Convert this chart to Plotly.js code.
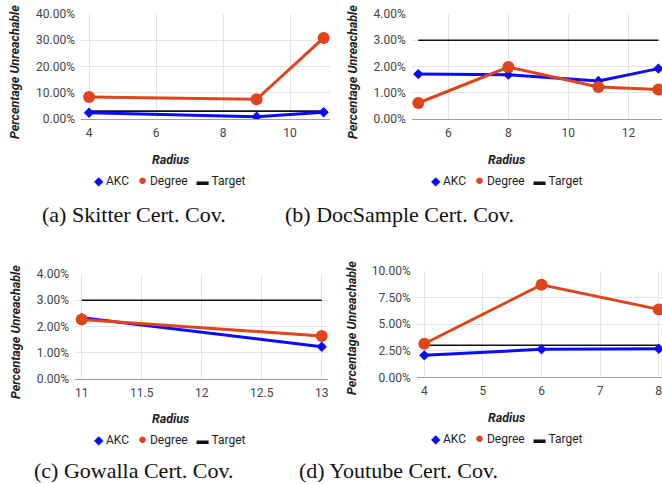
<!DOCTYPE html>
<html>
<head>
<meta charset="utf-8">
<script src="https://cdn.plot.ly/plotly-3.0.1.min.js"></script>
<style>html,body{margin:0;padding:0;background:#fff;}#chart{width:662px;height:484px;}</style>
</head>
<body>
<div id="chart"></div>
<script>
// ---- data (percent unreachable) ----
const seriesNames = ["AKC", "Degree", "Target"];
const targetValue = 3;

const radiusA = [4, 9, 11];
const akcA    = [2.4, 0.9, 2.55];
const degreeA = [8.4, 7.5, 30.9];

const radiusB = [5, 8, 11, 13];
const akcB    = [1.71, 1.69, 1.45, 1.92];
const degreeB = [0.61, 1.98, 1.22, 1.12];

const radiusC = [11, 13];
const akcC    = [2.33, 1.23];
const degreeC = [2.27, 1.64];

const radiusD = [4, 6, 8];
const akcD    = [2.06, 2.62, 2.68];
const degreeD = [3.15, 8.68, 6.37];

const yTicksA = [0, 10, 20, 30, 40];
const yTicksB = [0, 1, 2, 3, 4];
const yTicksC = [0, 1, 2, 3, 4];
const yTicksD = [0, 2.5, 5, 7.5, 10];

const xTicksA = [4, 6, 8, 10];
const xTicksB = [6, 8, 10, 12];
const xTicksC = [11, 11.5, 12, 12.5, 13];
const xTicksD = [4, 5, 6, 7, 8];

const captions = ["(a) Skitter Cert. Cov.", "(b) DocSample Cert. Cov.", "(c) Gowalla Cert. Cov.", "(d) Youtube Cert. Cov."];

// ---- styling ----
const AKC_COLOR = "#0a0aff";
const DEG_COLOR = "#e0441c";
const TGT_COLOR = "#111111";
const W = 662, H = 484;
const px = v => v / W;
const py = v => 1 - v / H;

const panels = [
  {x: radiusA, akc: akcA, deg: degreeA, xt: xTicksA, yt: yTicksA, xr: [3.76, 11.19], yr: [0, 40], dx: [81, 330], dy: [14, 119], ytitleX: 15, ytitleY: 72, midX: 170, radY: 159, legY: 180, capX: 134, capY: 214},
  {x: radiusB, akc: akcB, deg: degreeB, xt: xTicksB, yt: yTicksB, xr: [4.78, 13.12], yr: [0, 4], dx: [411.7, 662], dy: [14, 119], ytitleX: 353, ytitleY: 72, midX: 506.5, radY: 159, legY: 180, capX: 399.5, capY: 214},
  {x: radiusC, akc: akcC, deg: degreeC, xt: xTicksC, yt: yTicksC, xr: [10.944, 13.055], yr: [0, 4], dx: [75, 328.3], dy: [274, 379], ytitleX: 15, ytitleY: 332, midX: 170, radY: 418, legY: 439, capX: 133.5, capY: 470},
  {x: radiusD, akc: akcD, deg: degreeD, xt: xTicksD, yt: yTicksD, xr: [3.87, 8.056], yr: [0, 10], dx: [416.7, 662], dy: [270.7, 377.3], ytitleX: 351, ytitleY: 328, midX: 506.5, radY: 417, legY: 438, capX: 398, capY: 470}
];

const traces = [];
const layout = {
  width: W, height: H,
  margin: {l: 0, r: 0, t: 0, b: 0},
  paper_bgcolor: "#ffffff", plot_bgcolor: "#ffffff",
  showlegend: false,
  font: {family: "Roboto, sans-serif", size: 12, color: "#444444"},
  annotations: []
};

panels.forEach((p, i) => {
  const n = i === 0 ? "" : String(i + 1);
  const xa = "x" + n, ya = "y" + n;
  const first = p.x[0], last = p.x[p.x.length - 1];
  traces.push({
    x: [first, last], y: [targetValue, targetValue], xaxis: xa, yaxis: ya,
    mode: "lines", name: seriesNames[2], line: {color: TGT_COLOR, width: 1.6}, hoverinfo: "skip"
  });
  traces.push({
    x: p.x, y: p.akc, xaxis: xa, yaxis: ya, mode: "lines+markers", name: seriesNames[0],
    line: {color: AKC_COLOR, width: 3}, marker: {symbol: "diamond", size: 8, color: AKC_COLOR}
  });
  traces.push({
    x: p.x, y: p.deg, xaxis: xa, yaxis: ya, mode: "lines+markers", name: seriesNames[1],
    line: {color: DEG_COLOR, width: 3}, marker: {symbol: "circle", size: 12, color: DEG_COLOR}
  });

  layout["xaxis" + n] = {
    domain: [px(p.dx[0]), px(p.dx[1])], anchor: ya, range: p.xr,
    tickvals: p.xt, ticktext: p.xt.map(String),
    showgrid: true, gridcolor: "#e4e4e4", gridwidth: 1,
    zeroline: false, showline: false, ticks: "", ticklabelstandoff: 5,
    ticklabeloverflow: "allow",
    tickfont: {family: "Roboto, sans-serif", size: 12, color: "#444444"}
  };
  layout["yaxis" + n] = {
    domain: [py(p.dy[1]), py(p.dy[0])], anchor: xa, range: p.yr,
    tickvals: p.yt, ticktext: p.yt.map(v => v.toFixed(2) + "%"),
    showgrid: true, gridcolor: "#e4e4e4", gridwidth: 1,
    zeroline: true, zerolinecolor: "#9e9e9e", zerolinewidth: 1,
    showline: false, ticks: "", ticklabelstandoff: 5,
    ticklabeloverflow: "allow",
    tickfont: {family: "Roboto, sans-serif", size: 12, color: "#444444"}
  };

  // y-axis title
  layout.annotations.push({
    xref: "paper", yref: "paper", x: px(p.ytitleX), y: py(p.ytitleY),
    xanchor: "center", yanchor: "middle", textangle: -90, showarrow: false,
    text: "Percentage Unreachable",
    font: {family: "Roboto, sans-serif", size: 12.5, color: "#222222", weight: "bold", style: "italic"}
  });
  // x-axis title
  layout.annotations.push({
    xref: "paper", yref: "paper", x: px(p.midX), y: py(p.radY),
    xanchor: "center", yanchor: "middle", showarrow: false,
    text: "Radius",
    font: {family: "Roboto, sans-serif", size: 12.5, color: "#222222", weight: "bold", style: "italic"}
  });
  // legend row
  const sp = "\u00a0\u00a0\u00a0";
  layout.annotations.push({
    xref: "paper", yref: "paper", x: px(p.midX), y: py(p.legY),
    xanchor: "center", yanchor: "middle", showarrow: false,
    text: '<span style="color:' + AKC_COLOR + '">\u25C6</span>\u00a0' + seriesNames[0] + sp +
          '<span style="color:' + DEG_COLOR + ';font-size:15px">\u25CF</span>\u00a0' + seriesNames[1] + sp +
          '<span style="color:' + TGT_COLOR + '">\u25AC</span>\u00a0' + seriesNames[2],
    font: {family: "Roboto, sans-serif", size: 12, color: "#222222"}
  });
  // caption
  layout.annotations.push({
    xref: "paper", yref: "paper", x: px(p.capX), y: py(p.capY),
    xanchor: "center", yanchor: "middle", showarrow: false, borderpad: 0,
    text: captions[i],
    font: {family: "Liberation Serif, DejaVu Serif, serif", size: 22, color: "#111111"}
  });
});

Plotly.newPlot("chart", traces, layout, {displayModeBar: false, staticPlot: true});
</script>
</body>
</html>
